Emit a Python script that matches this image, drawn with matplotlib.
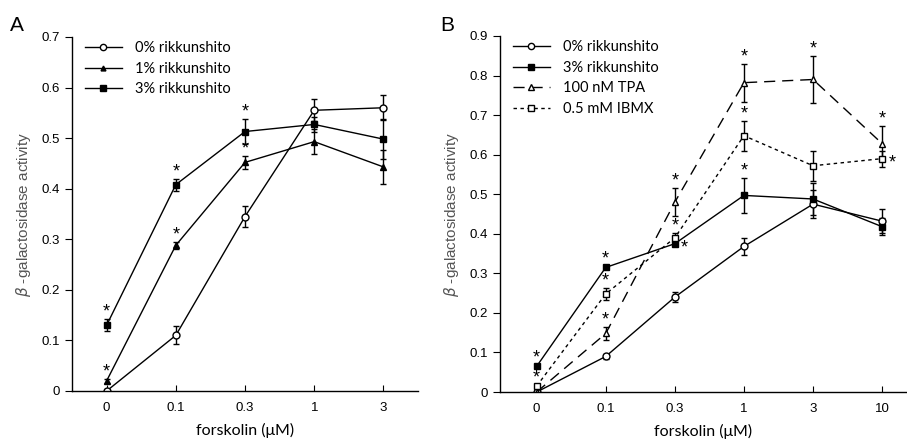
import numpy as np
import matplotlib
matplotlib.use('Agg')
import matplotlib.pyplot as plt
from matplotlib.lines import Line2D

# panel A values
labels_a = ['0', '0.1', '0.3', '1', '3']
a0_mean = [0.0, 0.11, 0.345, 0.555, 0.56]
a0_err = [0.003, 0.018, 0.021, 0.022, 0.025]
a1_mean = [0.02, 0.288, 0.452, 0.493, 0.443]
a1_err = [0.004, 0.007, 0.013, 0.025, 0.033]
a3_mean = [0.13, 0.408, 0.513, 0.527, 0.498]
a3_err = [0.012, 0.012, 0.025, 0.015, 0.04]
a1_star = [0, 1, 2]
a3_star = [0, 1, 2]

# panel B values
labels_b = ['0', '0.1', '0.3', '1', '3', '10']
b0_mean = [0.0, 0.09, 0.24, 0.368, 0.475, 0.432]
b0_err = [0.003, 0.006, 0.012, 0.021, 0.035, 0.03]
b3_mean = [0.065, 0.315, 0.375, 0.497, 0.488, 0.418]
b3_err = [0.003, 0.004, 0.005, 0.045, 0.04, 0.022]
tpa_mean = [0.0, 0.148, 0.48, 0.782, 0.79, 0.628]
tpa_err = [0.003, 0.017, 0.035, 0.048, 0.06, 0.045]
ibmx_mean = [0.015, 0.248, 0.39, 0.648, 0.572, 0.59]
ibmx_err = [0.004, 0.015, 0.012, 0.038, 0.038, 0.02]
b3_star = [0, 1, 3]
b3_star_side = [2]
tpa_star = [1, 2, 3, 4, 5]
ibmx_star = [0, 1, 2, 3]
ibmx_star_side = [5]

tick_font = 'Liberation Sans'
txt_font = 'Lato'


def series(ax, mean, err, label, marker, mfc, ls='-', dashes=None, ms=4.5):
    x = np.arange(len(mean))
    line = ax.errorbar(x, mean, yerr=err, color='black', lw=1, ls=ls,
                       marker=marker, mfc=mfc, mec='black', ms=ms, mew=1,
                       capsize=2.5, elinewidth=1, capthick=1)
    if dashes is not None:
        line.lines[0].set_dashes(dashes)
    # legend handle without the error bar
    h = Line2D([], [], color='black', lw=1, ls=ls, marker=marker, mfc=mfc,
               mec='black', ms=ms - 0.5, mew=1, label=label)
    if dashes is not None:
        h.set_dashes(dashes)
    return h


def stars(ax, mean, err, idx, side=False):
    for i in idx:
        if side:
            ax.annotate('*', (i, mean[i]), xytext=(7, -3), textcoords='offset points',
                        ha='center', va='center', fontsize=13, family=tick_font)
        else:
            ax.annotate('*', (i, mean[i] + err[i]), xytext=(0, 5), textcoords='offset points',
                        ha='center', va='center', fontsize=13, family=tick_font)


def style(ax, labels, ymax, xlim):
    ax.spines['top'].set_visible(False)
    ax.spines['right'].set_visible(False)
    ax.spines['left'].set_bounds(0, ymax)
    ax.set_xlim(*xlim)
    ax.set_ylim(0, ymax)
    ax.set_xticks(np.arange(len(labels)))
    ax.set_xticklabels(labels)
    yt = np.round(np.arange(0, ymax + 0.001, 0.1), 1)
    ax.set_yticks(yt)
    ax.set_yticklabels(['0'] + ['%.1f' % v for v in yt[1:]])
    ax.tick_params(axis='x', direction='in', length=4, pad=8)
    ax.tick_params(axis='y', direction='out', length=5)
    for t in ax.get_xticklabels() + ax.get_yticklabels():
        t.set_family(tick_font)
        t.set_fontsize(9.5)
    ax.set_xlabel('forskolin (\u03bcM)', family=txt_font, fontsize=11.5, labelpad=6)
    ax.set_ylabel(r'$\beta$ -galactosidase activity', family=tick_font,
                  fontsize=11, color='#555555', labelpad=6)
    for s in ax.spines.values():
        s.set_linewidth(1)
    ax.patch.set_visible(False)


fig = plt.figure(figsize=(9.07, 4.42), dpi=100)

axA = fig.add_axes([0.0794, 0.1154, 0.3815, 0.801])
hA = [series(axA, a0_mean, a0_err, '0% rikkunshito', 'o', 'white', ms=5),
      series(axA, a1_mean, a1_err, '1% rikkunshito', '^', 'black', ms=4),
      series(axA, a3_mean, a3_err, '3% rikkunshito', 's', 'black', ms=4.5)]
stars(axA, a1_mean, a1_err, a1_star)
stars(axA, a3_mean, a3_err, a3_star)
style(axA, labels_a, 0.7, (-0.5, 4.5))
axA.legend(handles=hA, loc='upper left', bbox_to_anchor=(0.0, 1.025), frameon=False,
           prop={'family': txt_font, 'size': 10.5}, handlelength=2.5,
           labelspacing=0.45, handletextpad=0.9)

axB = fig.add_axes([0.5513, 0.113, 0.4487, 0.8056])
hB = [series(axB, b0_mean, b0_err, '0% rikkunshito', 'o', 'white', ms=5),
      series(axB, b3_mean, b3_err, '3% rikkunshito', 's', 'black', ms=4.5),
      series(axB, tpa_mean, tpa_err, '100 nM TPA', '^', 'white', ls='--', dashes=(8, 5), ms=5),
      series(axB, ibmx_mean, ibmx_err, '0.5 mM IBMX', 's', 'white', ls='--', dashes=(2.5, 2.5), ms=5)]
stars(axB, b3_mean, b3_err, b3_star)
stars(axB, b3_mean, b3_err, b3_star_side, side=True)
stars(axB, tpa_mean, tpa_err, tpa_star)
stars(axB, ibmx_mean, ibmx_err, ibmx_star)
stars(axB, ibmx_mean, ibmx_err, ibmx_star_side, side=True)
style(axB, labels_b, 0.9, (-0.53, 5.36))
axB.legend(handles=hB, loc='upper left', bbox_to_anchor=(0.0, 1.025), frameon=False,
           prop={'family': txt_font, 'size': 10.5}, handlelength=2.5,
           labelspacing=0.45, handletextpad=0.9)

fig.text(0.011, 0.93, 'A', family=tick_font, fontsize=15)
fig.text(0.485, 0.93, 'B', family=tick_font, fontsize=15)

fig.savefig('out.png', dpi=100)
